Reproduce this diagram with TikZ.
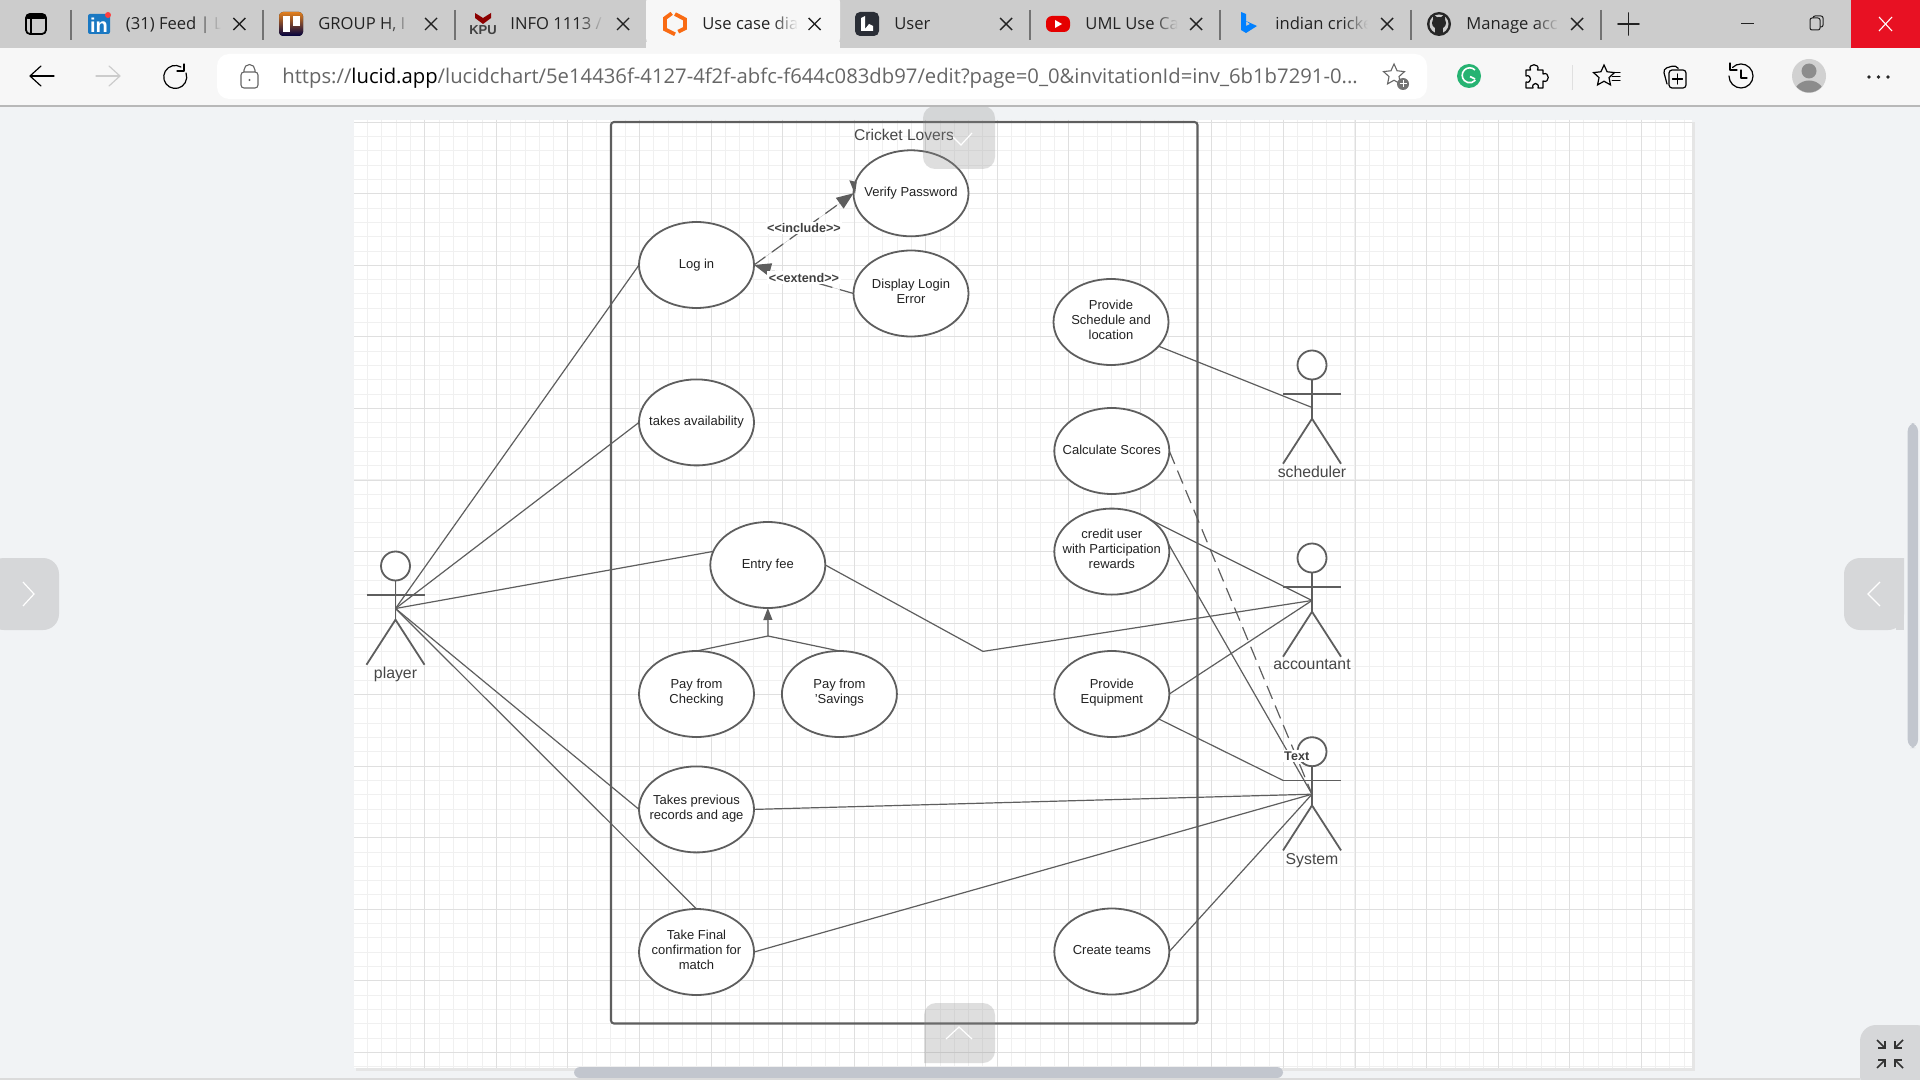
\documentclass[tikz,border=0pt]{standalone}
\usepackage{fontspec}
\setmainfont{Liberation Sans}
\newfontfamily\uifont{Open Sans}
\usetikzlibrary{arrows.meta,shapes.geometric,fadings}
\definecolor{lineC}{HTML}{5E5E5E}
\definecolor{pageC}{HTML}{F1F3F5}
\definecolor{tabbar}{HTML}{CCCCCC}
\definecolor{toolbar}{HTML}{F7F7F7}
\definecolor{minorC}{HTML}{F0F0F0}
\definecolor{majorC}{HTML}{DFDFDF}
\definecolor{tabC}{HTML}{D6D7D9}
\definecolor{barC}{HTML}{C2C6CE}
\definecolor{inkC}{HTML}{222222}
\definecolor{urlC}{HTML}{666666}
\definecolor{lucidC}{HTML}{F96B13}
\definecolor{closeC}{HTML}{E81123}
\definecolor{darkL}{HTML}{2A2E36}
\definecolor{linkC}{HTML}{1A78C2}
\tikzset{
  ucase/.style={ellipse,draw=lineC,line width=.9pt,fill=white,minimum width=57.5pt,minimum height=43pt,inner sep=0pt,outer sep=0pt,text=inkC},
  actorhead/.style={circle,draw=lineC,line width=.9pt,fill=white,minimum size=14.5pt,inner sep=0pt,outer sep=0pt},
  actorline/.style={draw=lineC,line width=.9pt},
  actorname/.style={text=black!72,inner sep=0pt,font=\fontsize{7.9}{9}\selectfont,anchor=north},
  conn/.style={draw=lineC,line width=.6pt},
  dashconn/.style={conn,dash pattern=on 7pt off 4pt},
  headarrow/.style={-{Triangle[length=8.5pt,width=6.5pt]}},
  smallhead/.style={-{Triangle[length=6pt,width=4.5pt]}},
  rellabel/.style={fill=white,inner sep=.8pt,text=black!75,font=\bfseries\fontsize{6.3}{7}\selectfont},
  tabtext/.style={font=\uifont\fontsize{8.3}{10}\selectfont,text=inkC,anchor=base west,inner sep=0pt},
  closex/.style={draw=inkC,line width=.7pt},
  uiline/.style={draw=black,line width=.6pt,line cap=round,line join=round},
  overlay tab/.style={fill=tabC,draw=none},
  ghost tab/.style={fill=black!45,fill opacity=.28,draw=none},
  chev/.style={draw=white,line width=.6pt},
  minorline/.style={draw=minorC,line width=.5pt},
  majorline/.style={draw=majorC,line width=.5pt},
}
\newcommand\ucbody[2]{\smash{\makebox[0pt]{\raisebox{#1}{\fontsize{6.5}{7.5}\selectfont\renewcommand\arraystretch{1}\begin{tabular}{@{}c@{}}#2\end{tabular}}}}}
\newcommand\usecase[4]{\node[ucase] (#1) at (#2,#3) {\ucbody{-1.7pt}{#4}};}
\newcommand\usecasemulti[4]{\node[ucase] (#1) at (#2,#3) {\ucbody{-1.1pt}{#4}};}
\newcommand\actorfig[4]{%
  \node[actorhead] (#1head) at (#2,#3) {};
  \coordinate (#1arml) at (#2-29,#3+28.7);
  \coordinate (#1armr) at (#2+29,#3+28.7);
  \coordinate (#1hub) at (#2,#3+42.5);
  \coordinate (#1hip) at (#2,#3+53.7);
  \coordinate (#1legl) at (#2-29,#3+98.7);
  \coordinate (#1legr) at (#2+29,#3+98.7);
  \draw[actorline] (#1head.south) -- (#1hip);
  \draw[actorline] (#1arml) -- (#1armr);
  \draw[actorline] (#1legl) -- (#1hip) -- (#1legr);
  \node[actorname] (#1name) at (#2,#3+101) {#4};
}
% tab title with the fade at its right end
\newcommand\tabtitle[5]{% name, x, end x, text, background
  \begin{scope}
    \clip (#2-2,8) rectangle (#3,40);
    \node[tabtext] (#1) at (#2,30) {#4};
  \end{scope}
  \fill[#5,path fading=west] (#3-24,8) rectangle (#3+.5,40);
}
\newcommand\closemark[1]{\draw[closex] (#1-6,18) -- (#1+6,30); \draw[closex] (#1+6,18) -- (#1-6,30);}
\begin{document}
\begin{tikzpicture}[x=.5pt,y=-.5pt]
\useasboundingbox (0,0) rectangle (1920,1080);
\fill[pageC] (0,0) rectangle (1920,1080);
% canvas
\fill[black!10] (356,122) rectangle (1695,1071);
\fill[white] (354,120) rectangle (1692,1068);
\begin{scope}
  \clip (354,120) rectangle (1692,1068);
  \foreach \i in {0,...,94} {\draw[minorline] ({round(352.8+14.31*\i)+.5},120) -- ({round(352.8+14.31*\i)+.5},1068);}
  \foreach \i in {0,...,67} {\draw[minorline] (354,{round(121.75+14.31*\i)+.5}) -- (1692,{round(121.75+14.31*\i)+.5});}
  \foreach \i in {0,...,18} {\draw[majorline] ({round(352.8+71.55*\i)+.5},120) -- ({round(352.8+71.55*\i)+.5},1068);}
  \foreach \i in {0,...,13} {\draw[majorline] (354,{round(121.75+71.55*\i)+.5}) -- (1692,{round(121.75+71.55*\i)+.5});}
\end{scope}
% system boundary
\draw[draw=lineC,line width=1.05pt,rounded corners=1.5pt] (611,122) rectangle (1197.5,1023.5);
\node[text=black!72,inner sep=0pt,font=\fontsize{7.8}{9}\selectfont] (boundary) at (904,135) {Cricket Lovers};
% use cases
\usecase{login}{696.5}{265}{Log in}
\usecase{verify}{911}{193.3}{Verify Password}
\usecasemulti{loginerr}{911}{293.5}{Display Login\\Error}
\usecase{avail}{696.5}{422.4}{takes availability}
\usecase{entry}{767.8}{565}{Entry fee}
\usecasemulti{checking}{696.5}{694}{Pay from\\Checking}
\usecasemulti{savings}{839.4}{694}{Pay from\\'Savings}
\usecasemulti{records}{696.5}{809.4}{Takes previous\\records and age}
\usecasemulti{final}{696.5}{952}{Take Final\\confirmation for\\match}
\usecasemulti{schedule}{1111}{322}{Provide\\Schedule and\\location}
\usecase{scores}{1111.8}{451}{Calculate Scores}
\usecasemulti{credit}{1111.8}{551.6}{credit user\\with Participation\\rewards}
\usecasemulti{equip}{1111.8}{694}{Provide\\Equipment}
\usecase{teams}{1111.8}{951.5}{Create teams}
% actors
\actorfig{player}{395.5}{566}{player}
\actorfig{sched}{1312}{365}{scheduler}
\actorfig{acct}{1312}{558}{accountant}
\actorfig{sys}{1312}{751.7}{System}
% connectors
\draw[conn] (playerhub) -- (login.west);
\draw[conn] (playerhub) -- (avail.west);
\draw[conn] (playerhub) -- (entry.166);
\draw[conn] (playerhub) -- (records.west);
\draw[conn] (playerhub) -- (final.north);
\coordinate (entrybend) at (983,651.4);
\draw[conn] (entry.east) -- (entrybend) -- (accthub);
\coordinate (payjoin) at (768,636);
\draw[conn] (checking.north) -- (payjoin) -- (savings.north);
\draw[conn,smallhead,fill=lineC] (payjoin) -- (entry.south);
\draw[conn] (schedule.-27) -- (schedhub);
\draw[conn] (credit.40) -- (accthub);
\draw[conn] (credit.8) -- (syshub);
\draw[conn] (equip.east) -- (accthub);
\draw[conn] (equip.-28) -- (sysarml);
\draw[conn] (records.east) -- (syshub);
\draw[conn] (final.east) -- (syshub);
\draw[conn] (teams.east) -- (syshub);
\draw[conn,dash pattern=on 7pt off 3.6pt] (scores.east) -- (syshub);
\node[rellabel] (textlabel) at (1296.7,756) {Text};
\draw[dashconn,headarrow,fill=lineC] (login.east) -- (verify.west);
\fill[lineC] (verify.west) ++(1.5,1) -- ++(-5.7,-14) -- ++(7.4,1.7) -- cycle;
\draw[dashconn,headarrow,fill=lineC] (loginerr.west) -- (login.east);
\node[rellabel] (includelabel) at (804,228) {<{}<include>{}>};
\node[rellabel] (extendlabel) at (804,277.7) {<{}<extend>{}>};
% viewer overlays
\fill[ghost tab,rounded corners=6pt] (923,106) -- (995,106) -- (995,169) -- (923,169) -- cycle;
\draw[chev] (953,137) -- (961,145) -- (972,133);
\fill[ghost tab,rounded corners=6pt] (924,1063) -- (924,1003) -- (995,1003) -- (995,1063) [sharp corners] -- cycle;
\draw[chev] (946,1039) -- (959,1027) -- (972,1039);
\fill[overlay tab,rounded corners=8pt] (-12,558) rectangle (59,630);
\fill[pageC] (-14,556) rectangle (0,632);
\draw[chev] (23,582) -- (34,594) -- (23,606);
\fill[overlay tab,rounded corners=8pt] (1904,558) -- (1844,558) -- (1844,630) -- (1904,630) [sharp corners] -- cycle;
\fill[tabC] (1896,558) rectangle (1904,630);
\draw[chev] (1880,582) -- (1868,594) -- (1880,606);
\fill[barC,rounded corners=4pt] (1907.7,423) rectangle (1918,748);
\fill[barC,rounded corners=3pt] (574,1067) rectangle (1283,1078);
\fill[overlay tab,rounded corners=8pt] (1932,1025) -- (1860,1025) -- (1860,1092) -- (1932,1092) -- cycle;
\fill[black!14] (0,1078) rectangle (1860,1080);
\begin{scope}[draw=black!80,line width=.8pt]
  \draw (1877,1040) -- (1885,1048); \draw (1885,1041) -- (1885,1048) -- (1878,1048);
  \draw (1903,1040) -- (1895,1048); \draw (1895,1041) -- (1895,1048) -- (1902,1048);
  \draw (1877,1068) -- (1885,1060); \draw (1885,1067) -- (1885,1060) -- (1878,1060);
  \draw (1903,1068) -- (1895,1060); \draw (1895,1067) -- (1895,1060) -- (1902,1060);
\end{scope}
% browser chrome: tab strip
\fill[toolbar] (0,48) rectangle (1920,105.5);
\fill[black!28] (0,105.5) rectangle (1920,107);
\fill[tabbar] (0,0) rectangle (1920,48);
\fill[toolbar,rounded corners=5pt] (646,-8) rectangle (840,48);
\fill[toolbar] (646,42) rectangle (840,48);
\fill[closeC] (1851,0) rectangle (1920,48);
\foreach \s in {71,263,455,1030,1220,1411,1601} {\draw[draw=black!55,line width=.55pt] (\s,10) -- (\s,40);}
% sidebar icon
\draw[uiline,line width=.9pt,rounded corners=2pt] (26,14) rectangle (46,34);
\fill[black,rounded corners=1pt] (26,14) rectangle (46,19);
\draw[uiline] (31,19) -- (31,34);
% linkedin
\fill[linkC,rounded corners=1pt] (88,14) rectangle (110,34);
\node[text=white,inner sep=0pt,font=\bfseries\fontsize{10}{10}\selectfont] (linkedin) at (99,25) {in};
\fill[red!75!white] (108,15) circle (3);
% trello
\fill[top color=orange!55!brown,bottom color=black!75!blue,rounded corners=2pt] (279,12) rectangle (303,36);
\fill[white] (283,16) rectangle (290,32);
\fill[white] (292.5,16) rectangle (299.5,26);
% kpu
\fill[red!55!black] (475,13) -- (483,18) -- (491,13) -- (491,18) -- (483,24) -- (475,18) -- cycle;
\node[text=black!75,inner sep=0pt,font=\bfseries\fontsize{6.5}{7}\selectfont] (kpu) at (483,30) {KPU};
% lucid
\draw[draw=lucidC,line width=1.9pt,line join=miter] (671.7,13.3) -- (665,18.3) -- (665,29.3) -- (675,34.3);
\draw[draw=lucidC,line width=1.9pt,line join=miter] (675,14) -- (685,19.3) -- (685,28.3) -- (678.3,31.7);
% dark L icon
\fill[darkL,rounded corners=2.5pt] (855,12) rectangle (879,36);
\fill[white] (861,18) -- (865,16) -- (865,29) -- (869,24) -- (873,26) -- (873,31) -- (861,31) -- cycle;
% youtube
\fill[red!90!black,rounded corners=3pt] (1046,16) rectangle (1070,32);
\fill[white] (1055,20) -- (1062,24) -- (1055,28) -- cycle;
% bing
\fill[blue!50!cyan] (1241,12) -- (1246,14) -- (1246,26) -- (1250,24) -- (1246,21) -- (1257,26) -- (1246,33) -- (1241,30) -- cycle;
% github
\fill[black!85] (1439,24) circle (12);
\fill[tabbar] (1439,24) circle (9.5);
\fill[black!85] (1439,23) ellipse (7 and 6);
\fill[black!85] (1433,20) -- (1433,14) -- (1438,18) -- cycle;
\fill[black!85] (1445,20) -- (1445,14) -- (1440,18) -- cycle;
\fill[black!85] (1435,27) rectangle (1443,35);
% tab titles
\tabtitle{tabfeed}{125.5}{220}{(31) Feed | L}{tabbar}
\tabtitle{tabgroup}{318}{411}{GROUP H, I}{tabbar}
\tabtitle{tabinfo}{510}{603}{INFO 1113 /}{tabbar}
\tabtitle{tabuse}{702}{797}{Use case dia}{toolbar}
\node[tabtext] (tabuser) at (894,30) {User};
\tabtitle{tabuml}{1085}{1177}{UML Use Ca}{tabbar}
\tabtitle{tabindian}{1275}{1367}{indian cricke}{tabbar}
\tabtitle{tabmanage}{1466}{1558}{Manage acc}{tabbar}
\closemark{239.4}\closemark{431}\closemark{623}\closemark{814.5}
\closemark{1006}\closemark{1196}\closemark{1387}\closemark{1577}
\draw[uiline,line width=.8pt,draw=inkC] (1618,24) -- (1639,24);
\draw[uiline,line width=.8pt,draw=inkC] (1628.5,13) -- (1628.5,35);
\draw[draw=inkC,line width=.5pt] (1741,24) -- (1754,24);
\draw[draw=inkC,line width=.5pt,rounded corners=1pt] (1810,18) rectangle (1820,30);
\draw[draw=inkC,line width=.5pt,rounded corners=1pt] (1813,18) -- (1813,16) -- (1823,16) -- (1823,27) -- (1820,27);
\draw[draw=white,line width=.55pt] (1879,17) -- (1892,31);
\draw[draw=white,line width=.55pt] (1892,17) -- (1879,31);
% toolbar icons
\draw[uiline] (54,76) -- (31,76); \draw[uiline] (41,66) -- (30,76) -- (41,86);
\draw[uiline,draw=black!20] (96,76) -- (119,76); \draw[uiline,draw=black!20] (109,66) -- (120,76) -- (109,86);
\draw[uiline] (181,67) arc (-60:-380:11.5);
\draw[uiline] (184,64) -- (184,71) -- (177,71);
\fill[white,rounded corners=6pt] (217,54) rectangle (1427,99);
\draw[draw=black!60,line width=.55pt,rounded corners=1.5pt] (241,72) rectangle (258,88);
\draw[draw=black!60,line width=.55pt] (244,72) -- (244,70) arc (180:360:5.5) -- (255,72);
\fill[black!60] (249.5,80) circle (1.2);
\node[anchor=base west,inner sep=0pt,text=urlC,font=\uifont\fontsize{10.13}{12}\selectfont] (urltext) at (282,83.5) {https://{\color{black}lucid.app}/lucidchart/5e14436f-4127-4f2f-abfc-f644c083db97/edit?page=0\_0\&invitationId=inv\_6b1b7291-0...};
\node[star,star points=5,star point ratio=2.1,draw=black!60,line width=.55pt,minimum size=11pt,inner sep=0pt] (addstar) at (1394,75) {};
\fill[black!55] (1403,84) circle (6);
\draw[draw=white,line width=.5pt] (1399.5,84) -- (1406.5,84); \draw[draw=white,line width=.5pt] (1403,80.5) -- (1403,87.5);
\fill[teal!70!green!85!white] (1469,76) circle (12);
\draw[draw=white,line width=.8pt] (1475,70) arc (-45:-320:7.5);
\draw[draw=white,line width=.8pt] (1475,79) -- (1470,76.5);
\draw[uiline] (1526,70) -- (1530.5,70) .. controls (1527,63) and (1541,63) .. (1537.5,70) -- (1543,70) -- (1543,74) .. controls (1550,71) and (1550,84) .. (1543,81) -- (1543,88) -- (1538,88) .. controls (1540,82) and (1531,82) .. (1533,88) -- (1526,88) -- (1526,82) .. controls (1532,84) and (1532,74) .. (1526,76) -- cycle;
\fill[black!12] (1571.5,65) rectangle (1572.8,90);
\node[star,star points=5,star point ratio=2.1,draw=black,line width=.6pt,minimum size=11pt,inner sep=0pt] (favstar) at (1604,76) {};
\foreach \yy in {73,77,81} {\draw[uiline,line width=.5pt] (1612,\yy) -- (1620,\yy);}
\draw[uiline,rounded corners=1.5pt] (1669,70) rectangle (1686,88);
\draw[uiline] (1677.5,74) -- (1677.5,84); \draw[uiline] (1672.5,79) -- (1682.5,79);
\draw[uiline,rounded corners=2pt] (1667,84) -- (1663,69) -- (1676,65) -- (1678,68);
\draw[uiline] (1732.5,67.5) arc (225:540:12);
\draw[uiline] (1730,63) -- (1730,70) -- (1737,70);
\draw[uiline] (1741,70) -- (1741,78) -- (1747,78);
\fill[black!18] (1809,76) circle (17);
\fill[black!45] (1809,71) circle (7.5);
\begin{scope}
  \clip (1809,76) circle (16.5);
  \fill[black!45] (1809,96) ellipse (16 and 15.5);
\end{scope}
\foreach \dd in {1869,1878.5,1888} {\fill[black!85] (\dd,77) circle (1.8);}
\end{tikzpicture}
\end{document}
